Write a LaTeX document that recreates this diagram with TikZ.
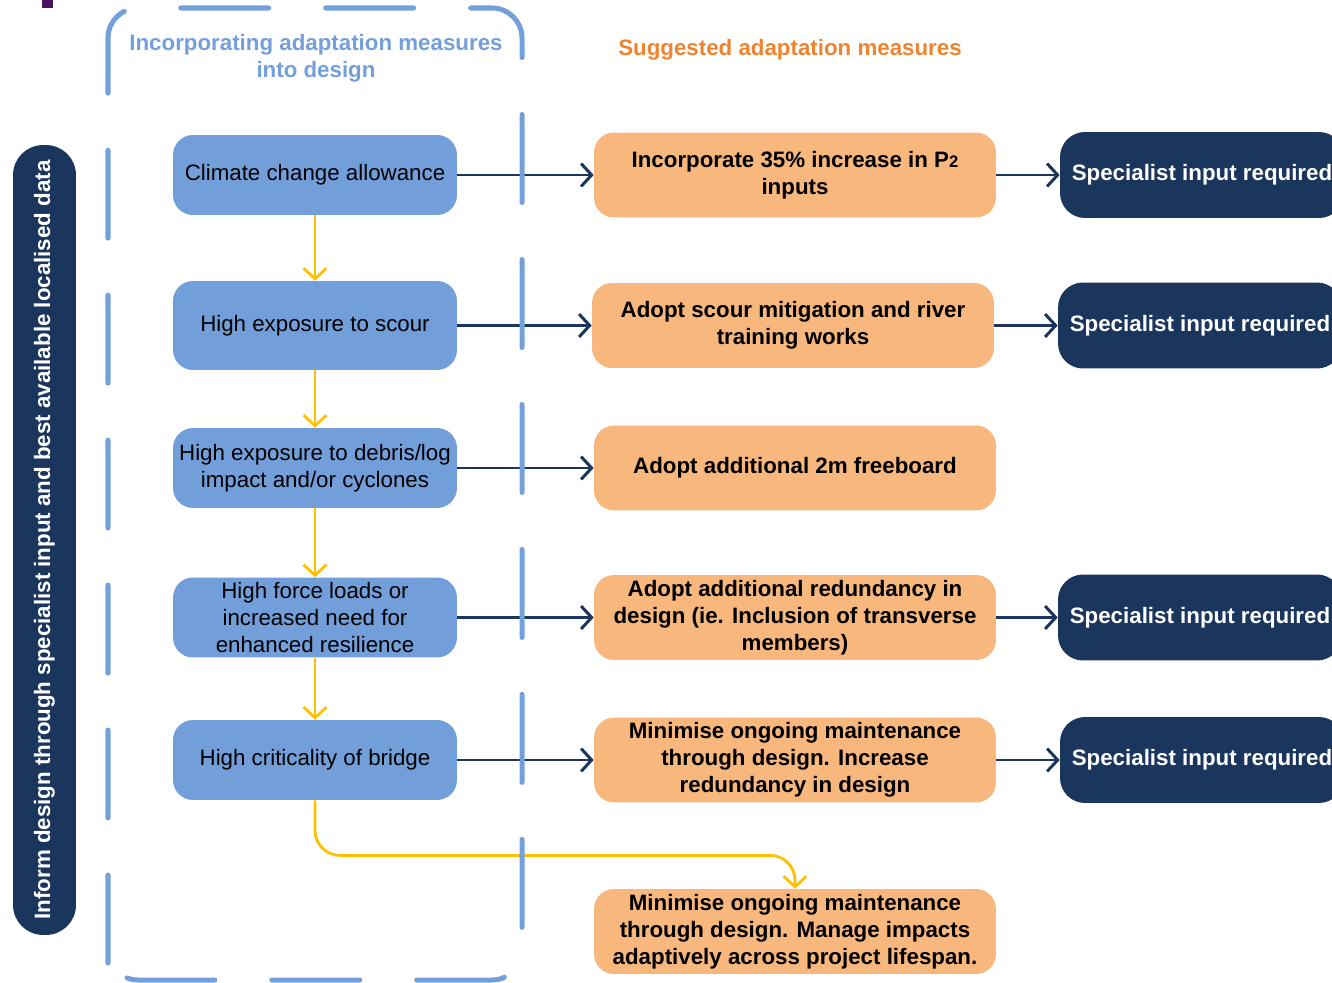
\documentclass[tikz,border=0pt]{standalone}
\usepackage{fontspec}
\setmainfont{Liberation Sans}
\usetikzlibrary{arrows.meta}
\definecolor{FrameBlue}{RGB}{115,159,219}
\definecolor{CauseBlue}{RGB}{114,158,218}
\definecolor{MeasureOrange}{RGB}{247,183,125}
\definecolor{InputNavy}{RGB}{27,54,93}
\definecolor{FlowYellow}{RGB}{255,192,0}
\definecolor{HeadOrange}{RGB}{240,131,46}
\definecolor{MarkPurple}{RGB}{75,17,95}
\newcommand\boxfont{\fontsize{12.7}{15.4}\selectfont}
\tikzset{cause/.style={rectangle, fill=CauseBlue, rounded corners=0.4cm, minimum width=5.68cm, minimum height=1.6cm, inner sep=1pt, align=center, font=\boxfont}}
\tikzset{measure/.style={rectangle, fill=MeasureOrange, rounded corners=0.4cm, minimum width=8.04cm, minimum height=1.7cm, inner sep=1pt, align=center, font=\boxfont\bfseries}}
\tikzset{specialist/.style={rectangle, fill=InputNavy, text=white, rounded corners=0.5cm, minimum width=5.68cm, minimum height=1.72cm, align=center, font=\boxfont\bfseries}}
\tikzset{sidebar/.style={rectangle, fill=InputNavy, text=white, rounded corners=0.6cm, minimum width=15.8cm, minimum height=1.26cm, rotate=90, font=\boxfont\bfseries}}
\tikzset{framehead/.style={text=FrameBlue, align=center, font=\boxfont\bfseries}}
\tikzset{measurehead/.style={text=HeadOrange, font=\boxfont\bfseries}}
\tikzset{navyflow/.style={draw=InputNavy, line width=1.7pt, ->}}
\tikzset{yellowflow/.style={draw=FlowYellow, line width=1.6pt, ->}}
\tikzset{designframe/.style={draw=FrameBlue, line width=2.85pt, line cap=round, rounded corners=0.6cm, dash pattern=on 1.76cm off 1.14cm}}

\begin{document}
\begin{tikzpicture}[
	x=0.02cm,
	y=-0.02cm,
	>={Straight Barb[length=6pt,width=13pt]},
	]
	\useasboundingbox (0,0) rectangle (1332,983);
	\clip (0,0) rectangle (1332,983);
	\fill[MarkPurple] (42,0) rectangle (53,8);

	\node [sidebar]       (side)  at (44.5,540)  {Inform design through specialist input and best available localised data};
	\node [framehead]     (head)  at (316,58)    {Incorporating adaptation measures\\into design};
	\node [measurehead]   (mhead) at (790,50)    {Suggested adaptation measures};

	\node [cause]         (C1) at (315,175)   {Climate change allowance};
	\node [cause, minimum height=1.78cm] (C2) at (315,325.5) {High exposure to scour};
	\node [cause]         (C3) at (315,468)   {High exposure to debris/log\\impact and/or cyclones};
	\node [cause]         (C4) at (315,617.5) {High force loads or\\increased need for\\enhanced resilience};
	\node [cause]         (C5) at (315,760)   {High criticality of bridge};

	\node [measure]       (M1) at (795,175)   {Incorporate 35\% increase in P{\fontsize{9.5}{9.5}\selectfont 2}\\inputs};
	\node [measure]       (M2) at (793,325.5) {Adopt scour mitigation and river\\training works};
	\node [measure]       (M3) at (795,468)   {Adopt additional 2m freeboard};
	\node [measure]       (M4) at (795,617.5) {Adopt additional redundancy in\\design (ie. Inclusion of transverse\\members)};
	\node [measure]       (M5) at (795,760)   {Minimise ongoing maintenance\\through design. Increase\\redundancy in design};
	\node [measure]       (M6) at (795,931.5) {Minimise ongoing maintenance\\through design. Manage impacts\\adaptively across project lifespan.};

	\node [specialist]    (S1) at (1202,175)   {Specialist input required};
	\node [specialist]    (S2) at (1200,325.5) {Specialist input required};
	\node [specialist]    (S4) at (1200,617.5) {Specialist input required};
	\node [specialist]    (S5) at (1202,760)   {Specialist input required};

	\path[navyflow]
	(C1) edge (M1)
	(C2) edge (M2)
	(C3) edge (M3)
	(C4) edge (M4)
	(C5) edge (M5)
	(M1) edge (S1)
	(M2) edge (S2)
	(M4) edge (S4)
	(M5) edge (S5);

	\path[yellowflow]
	(C1) edge (C2)
	(C2) edge (C3)
	(C3) edge (C4)
	(C4) edge (C5);
	\draw[yellowflow, rounded corners=0.5cm] (C5.south) -- ++(0,55) -| (M6);

	\draw[designframe] (108,963) -- (108,8) -- (522,8) -- (522,980) -- (108,980) -- (108,962);
\end{tikzpicture}
\end{document}
